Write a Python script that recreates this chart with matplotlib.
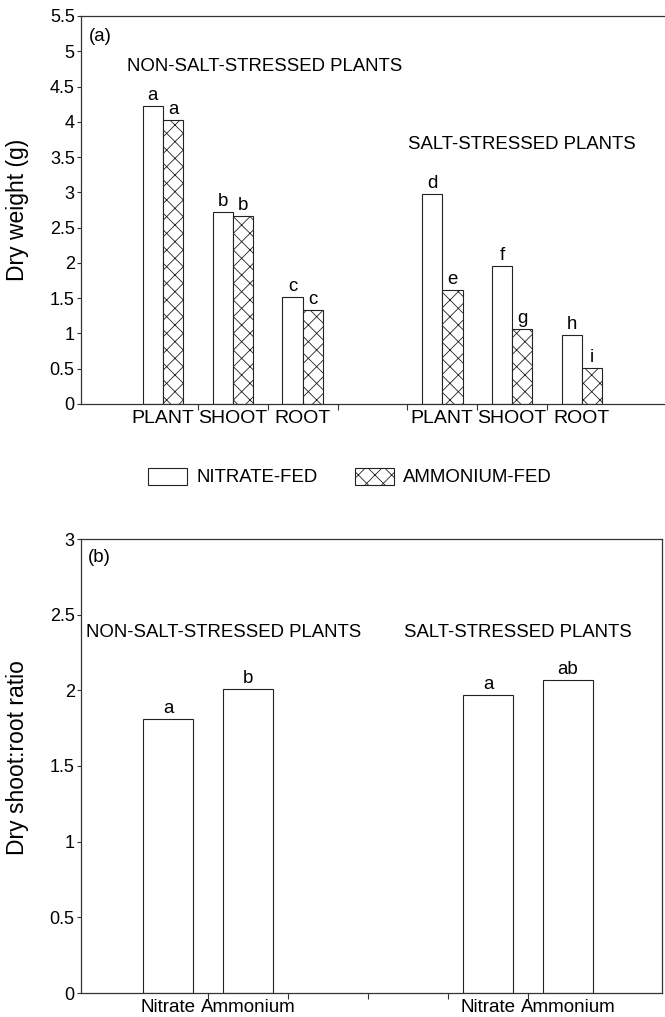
import numpy as np
import matplotlib.pyplot as plt
from matplotlib.patches import Patch

plt.rcParams['font.family'] = ['Liberation Sans', 'DejaVu Sans']
plt.rcParams['hatch.linewidth'] = 0.6
plt.rcParams['hatch.color'] = 'black'

# panel (a): dry weight (g)
organs = ['PLANT', 'SHOOT', 'ROOT']
nitrate_ctrl = [4.22, 2.72, 1.52]
ammonium_ctrl = [4.02, 2.67, 1.33]
nitrate_salt = [2.98, 1.96, 0.98]
ammonium_salt = [1.62, 1.06, 0.51]
let_nitrate_ctrl = ['a', 'b', 'c']
let_ammonium_ctrl = ['a', 'b', 'c']
let_nitrate_salt = ['d', 'f', 'h']
let_ammonium_salt = ['e', 'g', 'i']

# panel (b): dry shoot:root ratio
sources = ['Nitrate', 'Ammonium']
ratio_ctrl = [1.81, 2.01]
ratio_salt = [1.97, 2.07]
let_ratio_ctrl = ['a', 'b']
let_ratio_salt = ['a', 'ab']

FS = 13.4
EDGE = '#222222'


def label_bars(ax, xs, hs, letters):
    for x, h, t in zip(xs, hs, letters):
        ax.annotate(t, xy=(x, h), xytext=(0, 4.3), textcoords='offset points',
                    ha='center', va='baseline', fontsize=FS)


def style_axes(ax):
    for s in ax.spines.values():
        s.set_linewidth(0.9)
        s.set_color('#333333')
    ax.tick_params(axis='y', direction='out', length=3, width=0.8, pad=1.5,
                   labelsize=13, color='#333333')
    ax.tick_params(axis='x', which='major', direction='out', length=4, width=0.8,
                   color='#333333')
    ax.tick_params(axis='x', which='minor', length=0, pad=4.5, labelsize=14)
    ax.yaxis.set_major_formatter(plt.FuncFormatter(lambda v, p: '%g' % v))


fig = plt.figure(figsize=(6.65, 10.17), dpi=100)

# ---- (a)
ax1 = fig.add_axes([81 / 665, 1 - 404 / 1017, 584 / 665, 388 / 1017])
w = 0.29
x_ctrl = np.arange(3)
x_salt = np.arange(3) + 4
ax1.bar(x_ctrl - w / 2, nitrate_ctrl, w, color='white', edgecolor=EDGE, linewidth=0.8)
ax1.bar(x_ctrl + w / 2, ammonium_ctrl, w, color='white', edgecolor=EDGE, linewidth=0.8, hatch='xx')
ax1.bar(x_salt - w / 2, nitrate_salt, w, color='white', edgecolor=EDGE, linewidth=0.8)
ax1.bar(x_salt + w / 2, ammonium_salt, w, color='white', edgecolor=EDGE, linewidth=0.8, hatch='xx')
label_bars(ax1, x_ctrl - w / 2, nitrate_ctrl, let_nitrate_ctrl)
label_bars(ax1, x_ctrl + w / 2, ammonium_ctrl, let_ammonium_ctrl)
label_bars(ax1, x_salt - w / 2, nitrate_salt, let_nitrate_salt)
label_bars(ax1, x_salt + w / 2, ammonium_salt, let_ammonium_salt)

ax1.set_xlim(-1.175, 7.19)
ax1.set_ylim(0, 5.5)
ax1.set_yticks(np.arange(0, 5.51, 0.5))
ax1.set_xticks(np.arange(0.5, 6, 1.0))
ax1.set_xticklabels([])
ax1.set_xticks(np.concatenate([x_ctrl, x_salt]), minor=True)
ax1.set_xticklabels(organs + organs, minor=True)
style_axes(ax1)
ax1.spines['right'].set_visible(False)

ax1.text(0.0137, 0.946, '(a)', transform=ax1.transAxes, ha='left', va='center', fontsize=FS)
ax1.text(0.0796, 0.870, 'NON-SALT-STRESSED PLANTS', transform=ax1.transAxes,
         ha='left', va='center', fontsize=FS)
ax1.text(0.560, 0.670, 'SALT-STRESSED PLANTS', transform=ax1.transAxes,
         ha='left', va='center', fontsize=FS)
fig.text(18 / 665, 1 - 210 / 1017, 'Dry weight (g)', rotation=90,
         ha='center', va='center', fontsize=16.5)

handles = [Patch(facecolor='white', edgecolor=EDGE, linewidth=0.8, label='NITRATE-FED'),
           Patch(facecolor='white', edgecolor=EDGE, linewidth=0.8, hatch='xx', label='AMMONIUM-FED')]
fig.legend(handles=handles, loc='center', bbox_to_anchor=(350 / 665, 1 - 477 / 1017),
           ncol=2, frameon=False, fontsize=FS, handlelength=2.1, handleheight=1.05,
           handletextpad=0.5, columnspacing=2.0)

# ---- (b)
ax2 = fig.add_axes([81 / 665, 1 - 993 / 1017, 581 / 665, 454 / 1017])
w2 = 0.62
xb_ctrl = np.arange(2)
xb_salt = np.arange(2) + 4
ax2.bar(xb_ctrl, ratio_ctrl, w2, color='white', edgecolor=EDGE, linewidth=0.8)
ax2.bar(xb_salt, ratio_salt, w2, color='white', edgecolor=EDGE, linewidth=0.8)
label_bars(ax2, xb_ctrl, ratio_ctrl, let_ratio_ctrl)
label_bars(ax2, xb_salt, ratio_salt, let_ratio_salt)

ax2.set_xlim(-1.0875, 6.175)
ax2.set_ylim(0, 3)
ax2.set_yticks(np.arange(0, 3.01, 0.5))
ax2.set_xticks(np.arange(0.5, 5, 1.0))
ax2.set_xticklabels([])
ax2.set_xticks(np.concatenate([xb_ctrl, xb_salt]), minor=True)
ax2.set_xticklabels(sources + sources, minor=True)
style_axes(ax2)
ax2.tick_params(axis='x', which='minor', labelsize=13.5)

ax2.text(0.012, 0.960, '(b)', transform=ax2.transAxes, ha='left', va='center', fontsize=FS)
ax2.text(0.0086, 0.793, 'NON-SALT-STRESSED PLANTS', transform=ax2.transAxes,
         ha='left', va='center', fontsize=FS)
ax2.text(0.556, 0.793, 'SALT-STRESSED PLANTS', transform=ax2.transAxes,
         ha='left', va='center', fontsize=FS)
fig.text(18 / 665, 1 - 758 / 1017, 'Dry shoot:root ratio', rotation=90,
         ha='center', va='center', fontsize=16.5)

fig.savefig('out.png', dpi=100, facecolor='white')
